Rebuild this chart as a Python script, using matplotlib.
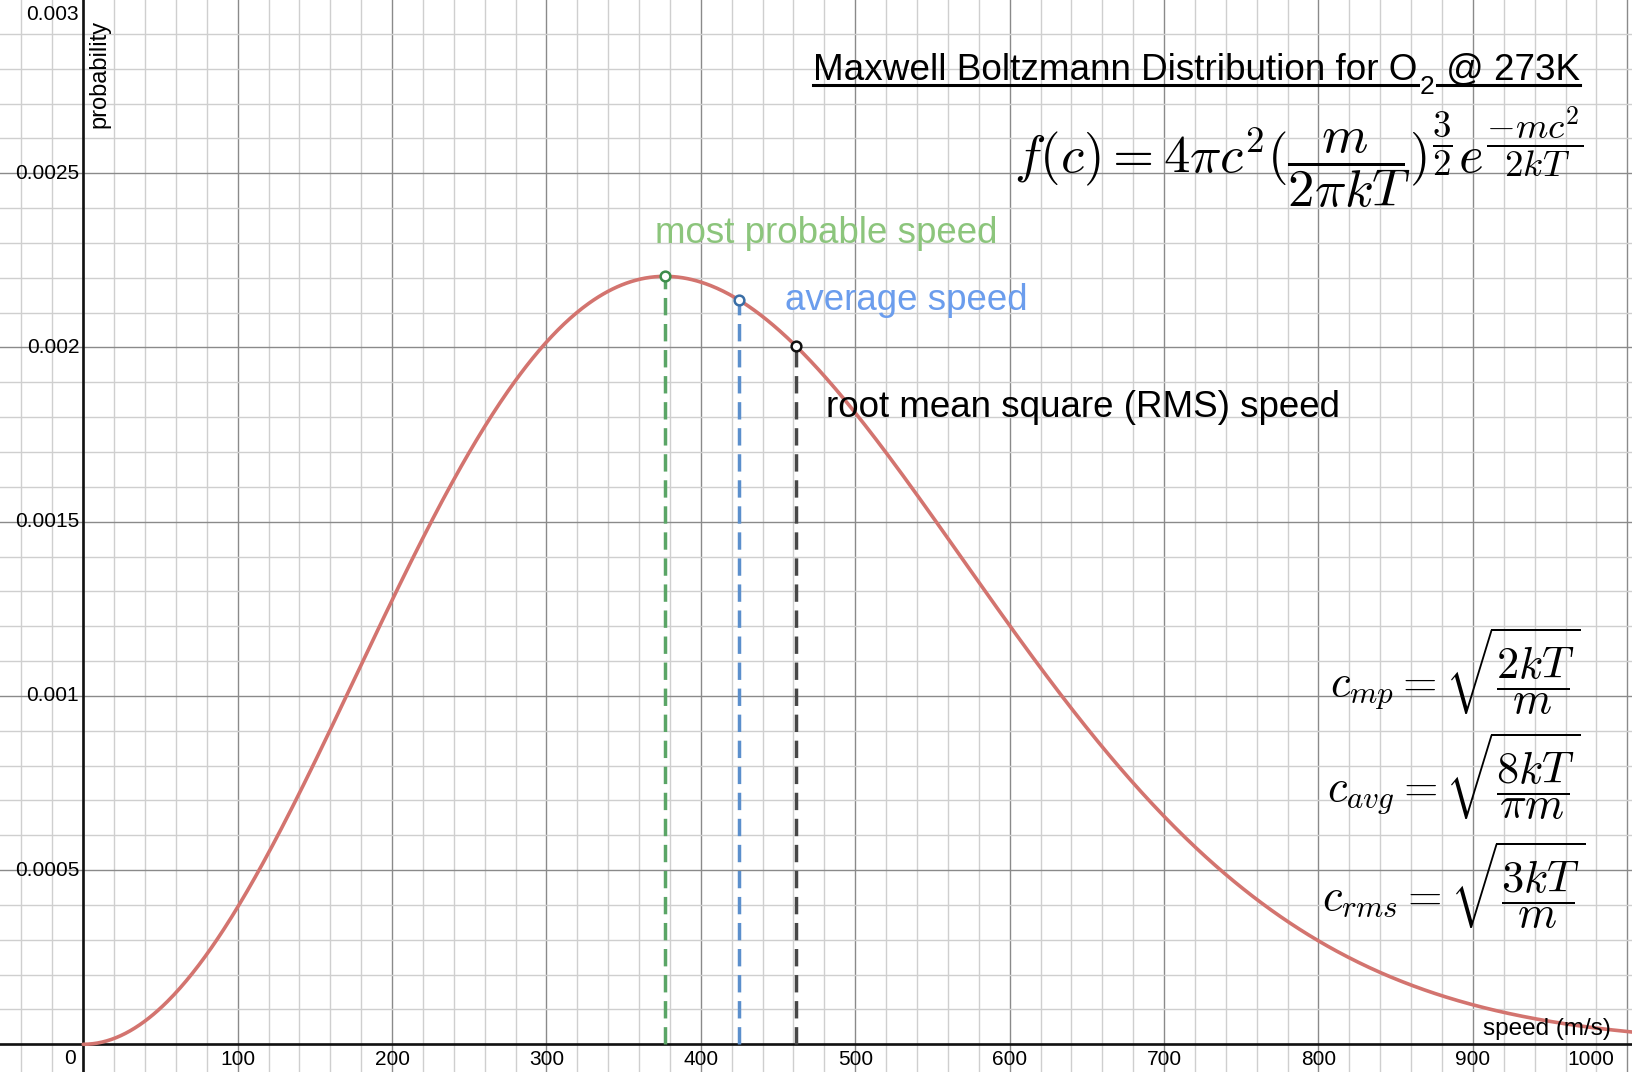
import numpy as np
import matplotlib
matplotlib.use("Agg")
import matplotlib.pyplot as plt
import matplotlib.transforms as mtransforms
from matplotlib.lines import Line2D
from matplotlib.ticker import MultipleLocator

plt.rcParams['font.family'] = ['Liberation Sans', 'DejaVu Sans']
plt.rcParams['mathtext.fontset'] = 'cm'

# O2 at 273 K
T = 273.0
k_B = 1.380649e-23
amu = 1.66054e-27
molar_mass = 32.0
m = molar_mass * amu

x_ticks = [100, 200, 300, 400, 500, 600, 700, 800, 900, 1000]
x_tick_labels = ["100", "200", "300", "400", "500", "600", "700", "800", "900", "1000"]
y_ticks = [0.0005, 0.001, 0.0015, 0.002, 0.0025, 0.003]
y_tick_labels = ["0.0005", "0.001", "0.0015", "0.002", "0.0025", "0.003"]

speed_names = ["most probable speed", "average speed", "root mean square (RMS) speed"]
speed_factors = [2.0, 8.0 / np.pi, 3.0]   # c = sqrt(factor * kT / m)
line_colors = ["#5aa566", "#5b8fcc", "#474747"]
point_colors = ["#3d8d4b", "#3a6ea6", "#111111"]
text_colors = ["#8cc57c", "#6b9ded", "#000000"]


def maxwell(c):
    a = m / (2 * np.pi * k_B * T)
    return 4 * np.pi * c ** 2 * a ** 1.5 * np.exp(-m * c ** 2 / (2 * k_B * T))


W, H = 1633, 1072
fig = plt.figure(figsize=(W / 100, H / 100), dpi=100)
ax = fig.add_axes([0, 0, 1, 1])
ax.set_xlim(-53.9, 1003.7)
ax.set_ylim(-0.0000795, 0.0029974)
for s in ax.spines.values():
    s.set_visible(False)

ax.xaxis.set_major_locator(MultipleLocator(100))
ax.xaxis.set_minor_locator(MultipleLocator(20))
ax.yaxis.set_major_locator(MultipleLocator(0.0005))
ax.yaxis.set_minor_locator(MultipleLocator(0.0001))
ax.grid(which='major', color='#8a8a8a', lw=1.0)
ax.grid(which='minor', color='#cfcfcf', lw=1.0)
ax.tick_params(which='both', length=0, labelbottom=False, labelleft=False)
ax.set_axisbelow(True)

ax.axhline(0, color='#111111', lw=1.9, zorder=2)
ax.axvline(0, color='#111111', lw=1.9, zorder=2)


def off(dx, dy):
    return mtransforms.offset_copy(ax.transData, fig=fig, x=dx, y=dy, units='dots')


# tick labels (desmos style)
for v, lab in zip(x_ticks, x_tick_labels):
    if v == x_ticks[-1]:
        ax.text(v, 0, lab, transform=off(-13, -6), ha='right', va='top', fontsize=15)
    else:
        ax.text(v, 0, lab, transform=off(0, -6), ha='center', va='top', fontsize=15)
ax.text(0, 0, "0", transform=off(-7, -5), ha='right', va='top', fontsize=15)
for v, lab in zip(y_ticks, y_tick_labels):
    if v == y_ticks[-1]:
        ax.text(0, ax.get_ylim()[1], lab, transform=off(-4, -5), ha='right', va='top', fontsize=15)
    else:
        ax.text(0, v, lab, transform=off(-4, 0), ha='right', va='center', fontsize=15)

ax.text(0, ax.get_ylim()[1], "probability", transform=off(5, -20), rotation=90,
        ha='left', va='top', fontsize=17)
fig.text(1611 / W, 1 - 1035 / H, "speed (m/s)", ha='right', va='baseline', fontsize=17.5)

# curve
speeds = np.linspace(0, 1010, 1000)
ax.plot(speeds, maxwell(speeds), color='#d3746f', lw=2.6, zorder=3, solid_capstyle='round')

# characteristic speeds
for fac, lc, pc in zip(speed_factors, line_colors, point_colors):
    c = np.sqrt(fac * k_B * T / m)
    ax.plot([c, c], [0, maxwell(c)], color=lc, lw=2.5, dashes=(5, 2.5), zorder=4)
    ax.plot([c], [maxwell(c)], marker='o', ms=7, mfc='white', mec=pc, mew=1.8, zorder=5)

label_pos = [(655, 243), (785, 310), (826, 417)]
for name, col, (px, py) in zip(speed_names, text_colors, label_pos):
    fig.text(px / W, 1 - py / H, name, color=col, fontsize=26.5, ha='left', va='baseline')

# title with subscript and underline
fig.canvas.draw()
r = fig.canvas.get_renderer()
t1 = fig.text(812.7 / W, 1 - 80 / H, "Maxwell Boltzmann Distribution for O", fontsize=26.6,
              ha='left', va='baseline')
b1 = t1.get_window_extent(r)
t2 = fig.text((b1.x1 + 3) / W, 1 - 94 / H, "2", fontsize=19, ha='left', va='baseline')
b2 = t2.get_window_extent(r)
t3 = fig.text((b2.x1 + 1) / W, 1 - 80 / H, " @ 273K", fontsize=26.6, ha='left', va='baseline')
b3 = t3.get_window_extent(r)
uy = 1 - 85 / H
fig.add_artist(Line2D([812.7 / W, (b2.x0 - 2) / W], [uy, uy], color='black', lw=2.2,
                      transform=fig.transFigure))
fig.add_artist(Line2D([(b2.x1 + 2) / W, b3.x1 / W], [uy, uy], color='black', lw=2.2,
                      transform=fig.transFigure))

# formulas
fig.text(1583 / W, 1 - 157 / H,
         r'$f(c)=4\pi c^2(\dfrac{m}{2\pi kT})^{\dfrac{3}{2}}e^{\dfrac{-mc^2}{2kT}}$',
         fontsize=38, ha='right', va='center')
fig.text(1581 / W, 1 - 671 / H, r'$c_{mp}=\sqrt{\dfrac{2kT}{m}}$', fontsize=32,
         ha='right', va='center')
fig.text(1581 / W, 1 - 776 / H, r'$c_{avg}=\sqrt{\dfrac{8kT}{\pi m}}$', fontsize=32,
         ha='right', va='center')
fig.text(1585 / W, 1 - 885 / H, r'$c_{rms}=\sqrt{\dfrac{3kT}{m}}$', fontsize=32,
         ha='right', va='center')

fig.savefig("out.png", dpi=100)
